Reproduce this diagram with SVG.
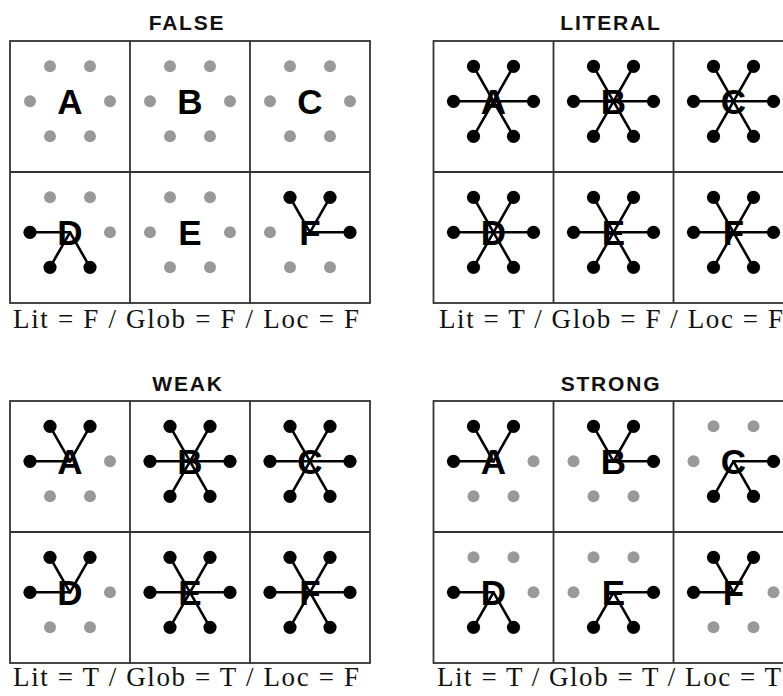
<svg xmlns="http://www.w3.org/2000/svg" xmlns:xlink="http://www.w3.org/1999/xlink" width="783" height="696" viewBox="0 0 783 696">
<style>
.bg{fill:#fff}
.frame{fill:none;stroke:#333;stroke-width:1.8}
.div{stroke:#333;stroke-width:1.8}
.title{font-family:"Liberation Sans",Arial,sans-serif;font-weight:bold;font-size:21px;letter-spacing:1.8px;fill:#111;text-anchor:middle}
.cap{font-family:"Liberation Serif","Times New Roman",serif;font-size:27px;fill:#111}
.lt{font-family:"Liberation Sans",Arial,sans-serif;font-weight:bold;font-size:35px;fill:#000;text-anchor:middle}
.sp{stroke:#000;stroke-width:2.6;stroke-linecap:round}
.g{fill:#999}
.b{fill:#000}
</style>
<defs>
<circle id="gd" class="g" r="6"/>
<circle id="bd" class="b" r="6.6"/>
<line id="sTL" class="sp" x1="0" y1="0" x2="-20" y2="-35"/>
<line id="sTR" class="sp" x1="0" y1="0" x2="20" y2="-35"/>
<line id="sL" class="sp" x1="0" y1="0" x2="-40" y2="0"/>
<line id="sR" class="sp" x1="0" y1="0" x2="40" y2="0"/>
<line id="sBL" class="sp" x1="0" y1="0" x2="-20" y2="35"/>
<line id="sBR" class="sp" x1="0" y1="0" x2="20" y2="35"/>
</defs>
<rect class="bg" x="0" y="0" width="783" height="696"/>

<!-- panel frames -->
<g id="frames">
<rect class="frame" x="10" y="41" width="360" height="262"/>
<line class="div" x1="130" y1="41" x2="130" y2="303"/>
<line class="div" x1="250" y1="41" x2="250" y2="303"/>
<line class="div" x1="10" y1="172" x2="370" y2="172"/>
<rect class="frame" x="433.5" y="41" width="360" height="262"/>
<line class="div" x1="553.5" y1="41" x2="553.5" y2="303"/>
<line class="div" x1="673.5" y1="41" x2="673.5" y2="303"/>
<line class="div" x1="433.5" y1="172" x2="793.5" y2="172"/>
<rect class="frame" x="10" y="401" width="360" height="262"/>
<line class="div" x1="130" y1="401" x2="130" y2="663"/>
<line class="div" x1="250" y1="401" x2="250" y2="663"/>
<line class="div" x1="10" y1="532" x2="370" y2="532"/>
<rect class="frame" x="433.5" y="401" width="360" height="262"/>
<line class="div" x1="553.5" y1="401" x2="553.5" y2="663"/>
<line class="div" x1="673.5" y1="401" x2="673.5" y2="663"/>
<line class="div" x1="433.5" y1="532" x2="793.5" y2="532"/>
</g>

<g id="titles">
<text class="title" x="187" y="30">FALSE</text>
<text class="title" x="611" y="30">LITERAL</text>
<text class="title" x="188" y="391">WEAK</text>
<text class="title" x="611" y="391">STRONG</text>
</g>

<g id="captions">
<text class="cap" x="13" y="328" textLength="346" lengthAdjust="spacing">Lit = F / Glob = F / Loc = F</text>
<text class="cap" x="439" y="328" textLength="344" lengthAdjust="spacing">Lit = T / Glob = F / Loc = F</text>
<text class="cap" x="13" y="686" textLength="346" lengthAdjust="spacing">Lit = T / Glob = T / Loc = F</text>
<text class="cap" x="437" y="686" textLength="344" lengthAdjust="spacing">Lit = T / Glob = T / Loc = T</text>
</g>

<!-- connectors (spokes) -->
<g id="connectors">
<g transform="translate(70,232.3)"><use xlink:href="#sL"/><use xlink:href="#sBL"/><use xlink:href="#sBR"/></g>
<g transform="translate(310,232.3)"><use xlink:href="#sTL"/><use xlink:href="#sTR"/><use xlink:href="#sR"/></g>

<g transform="translate(493.5,101.3)"><use xlink:href="#sTL"/><use xlink:href="#sTR"/><use xlink:href="#sL"/><use xlink:href="#sR"/><use xlink:href="#sBL"/><use xlink:href="#sBR"/></g>
<g transform="translate(613.5,101.3)"><use xlink:href="#sTL"/><use xlink:href="#sTR"/><use xlink:href="#sL"/><use xlink:href="#sR"/><use xlink:href="#sBL"/><use xlink:href="#sBR"/></g>
<g transform="translate(733.5,101.3)"><use xlink:href="#sTL"/><use xlink:href="#sTR"/><use xlink:href="#sL"/><use xlink:href="#sR"/><use xlink:href="#sBL"/><use xlink:href="#sBR"/></g>
<g transform="translate(493.5,232.3)"><use xlink:href="#sTL"/><use xlink:href="#sTR"/><use xlink:href="#sL"/><use xlink:href="#sR"/><use xlink:href="#sBL"/><use xlink:href="#sBR"/></g>
<g transform="translate(613.5,232.3)"><use xlink:href="#sTL"/><use xlink:href="#sTR"/><use xlink:href="#sL"/><use xlink:href="#sR"/><use xlink:href="#sBL"/><use xlink:href="#sBR"/></g>
<g transform="translate(733.5,232.3)"><use xlink:href="#sTL"/><use xlink:href="#sTR"/><use xlink:href="#sL"/><use xlink:href="#sR"/><use xlink:href="#sBL"/><use xlink:href="#sBR"/></g>

<g transform="translate(70,461.3)"><use xlink:href="#sTL"/><use xlink:href="#sTR"/><use xlink:href="#sL"/></g>
<g transform="translate(190,461.3)"><use xlink:href="#sTL"/><use xlink:href="#sTR"/><use xlink:href="#sL"/><use xlink:href="#sR"/><use xlink:href="#sBL"/><use xlink:href="#sBR"/></g>
<g transform="translate(310,461.3)"><use xlink:href="#sTL"/><use xlink:href="#sTR"/><use xlink:href="#sL"/><use xlink:href="#sR"/><use xlink:href="#sBL"/><use xlink:href="#sBR"/></g>
<g transform="translate(70,592.3)"><use xlink:href="#sTL"/><use xlink:href="#sTR"/><use xlink:href="#sL"/></g>
<g transform="translate(190,592.3)"><use xlink:href="#sTL"/><use xlink:href="#sTR"/><use xlink:href="#sL"/><use xlink:href="#sR"/><use xlink:href="#sBL"/><use xlink:href="#sBR"/></g>
<g transform="translate(310,592.3)"><use xlink:href="#sTL"/><use xlink:href="#sTR"/><use xlink:href="#sL"/><use xlink:href="#sR"/><use xlink:href="#sBL"/><use xlink:href="#sBR"/></g>

<g transform="translate(493.5,461.3)"><use xlink:href="#sTL"/><use xlink:href="#sTR"/><use xlink:href="#sL"/></g>
<g transform="translate(613.5,461.3)"><use xlink:href="#sTL"/><use xlink:href="#sTR"/><use xlink:href="#sR"/></g>
<g transform="translate(733.5,461.3)"><use xlink:href="#sR"/><use xlink:href="#sBL"/><use xlink:href="#sBR"/></g>
<g transform="translate(493.5,592.3)"><use xlink:href="#sL"/><use xlink:href="#sBL"/><use xlink:href="#sBR"/></g>
<g transform="translate(613.5,592.3)"><use xlink:href="#sR"/><use xlink:href="#sBL"/><use xlink:href="#sBR"/></g>
<g transform="translate(733.5,592.3)"><use xlink:href="#sTL"/><use xlink:href="#sTR"/><use xlink:href="#sL"/></g>
</g>

<!-- FALSE panel cells -->
<g id="false-A" transform="translate(70,101.3)"><text class="lt" x="0" y="12.5">A</text><use xlink:href="#gd" x="-20" y="-35"/><use xlink:href="#gd" x="20" y="-35"/><use xlink:href="#gd" x="-40" y="0"/><use xlink:href="#gd" x="40" y="0"/><use xlink:href="#gd" x="-20" y="35"/><use xlink:href="#gd" x="20" y="35"/></g>
<g id="false-B" transform="translate(190,101.3)"><text class="lt" x="0" y="12.5">B</text><use xlink:href="#gd" x="-20" y="-35"/><use xlink:href="#gd" x="20" y="-35"/><use xlink:href="#gd" x="-40" y="0"/><use xlink:href="#gd" x="40" y="0"/><use xlink:href="#gd" x="-20" y="35"/><use xlink:href="#gd" x="20" y="35"/></g>
<g id="false-C" transform="translate(310,101.3)"><text class="lt" x="0" y="12.5">C</text><use xlink:href="#gd" x="-20" y="-35"/><use xlink:href="#gd" x="20" y="-35"/><use xlink:href="#gd" x="-40" y="0"/><use xlink:href="#gd" x="40" y="0"/><use xlink:href="#gd" x="-20" y="35"/><use xlink:href="#gd" x="20" y="35"/></g>
<g id="false-D" transform="translate(70,232.3)"><text class="lt" x="0" y="12.5">D</text><use xlink:href="#gd" x="-20" y="-35"/><use xlink:href="#gd" x="20" y="-35"/><use xlink:href="#bd" x="-40" y="0"/><use xlink:href="#gd" x="40" y="0"/><use xlink:href="#bd" x="-20" y="35"/><use xlink:href="#bd" x="20" y="35"/></g>
<g id="false-E" transform="translate(190,232.3)"><text class="lt" x="0" y="12.5">E</text><use xlink:href="#gd" x="-20" y="-35"/><use xlink:href="#gd" x="20" y="-35"/><use xlink:href="#gd" x="-40" y="0"/><use xlink:href="#gd" x="40" y="0"/><use xlink:href="#gd" x="-20" y="35"/><use xlink:href="#gd" x="20" y="35"/></g>
<g id="false-F" transform="translate(310,232.3)"><text class="lt" x="0" y="12.5">F</text><use xlink:href="#bd" x="-20" y="-35"/><use xlink:href="#bd" x="20" y="-35"/><use xlink:href="#gd" x="-40" y="0"/><use xlink:href="#bd" x="40" y="0"/><use xlink:href="#gd" x="-20" y="35"/><use xlink:href="#gd" x="20" y="35"/></g>

<!-- LITERAL panel cells -->
<g id="literal-A" transform="translate(493.5,101.3)"><text class="lt" x="0" y="12.5">A</text><use xlink:href="#bd" x="-20" y="-35"/><use xlink:href="#bd" x="20" y="-35"/><use xlink:href="#bd" x="-40" y="0"/><use xlink:href="#bd" x="40" y="0"/><use xlink:href="#bd" x="-20" y="35"/><use xlink:href="#bd" x="20" y="35"/></g>
<g id="literal-B" transform="translate(613.5,101.3)"><text class="lt" x="0" y="12.5">B</text><use xlink:href="#bd" x="-20" y="-35"/><use xlink:href="#bd" x="20" y="-35"/><use xlink:href="#bd" x="-40" y="0"/><use xlink:href="#bd" x="40" y="0"/><use xlink:href="#bd" x="-20" y="35"/><use xlink:href="#bd" x="20" y="35"/></g>
<g id="literal-C" transform="translate(733.5,101.3)"><text class="lt" x="0" y="12.5">C</text><use xlink:href="#bd" x="-20" y="-35"/><use xlink:href="#bd" x="20" y="-35"/><use xlink:href="#bd" x="-40" y="0"/><use xlink:href="#bd" x="40" y="0"/><use xlink:href="#bd" x="-20" y="35"/><use xlink:href="#bd" x="20" y="35"/></g>
<g id="literal-D" transform="translate(493.5,232.3)"><text class="lt" x="0" y="12.5">D</text><use xlink:href="#bd" x="-20" y="-35"/><use xlink:href="#bd" x="20" y="-35"/><use xlink:href="#bd" x="-40" y="0"/><use xlink:href="#bd" x="40" y="0"/><use xlink:href="#bd" x="-20" y="35"/><use xlink:href="#bd" x="20" y="35"/></g>
<g id="literal-E" transform="translate(613.5,232.3)"><text class="lt" x="0" y="12.5">E</text><use xlink:href="#bd" x="-20" y="-35"/><use xlink:href="#bd" x="20" y="-35"/><use xlink:href="#bd" x="-40" y="0"/><use xlink:href="#bd" x="40" y="0"/><use xlink:href="#bd" x="-20" y="35"/><use xlink:href="#bd" x="20" y="35"/></g>
<g id="literal-F" transform="translate(733.5,232.3)"><text class="lt" x="0" y="12.5">F</text><use xlink:href="#bd" x="-20" y="-35"/><use xlink:href="#bd" x="20" y="-35"/><use xlink:href="#bd" x="-40" y="0"/><use xlink:href="#bd" x="40" y="0"/><use xlink:href="#bd" x="-20" y="35"/><use xlink:href="#bd" x="20" y="35"/></g>

<!-- WEAK panel cells -->
<g id="weak-A" transform="translate(70,461.3)"><text class="lt" x="0" y="12.5">A</text><use xlink:href="#bd" x="-20" y="-35"/><use xlink:href="#bd" x="20" y="-35"/><use xlink:href="#bd" x="-40" y="0"/><use xlink:href="#gd" x="40" y="0"/><use xlink:href="#gd" x="-20" y="35"/><use xlink:href="#gd" x="20" y="35"/></g>
<g id="weak-B" transform="translate(190,461.3)"><text class="lt" x="0" y="12.5">B</text><use xlink:href="#bd" x="-20" y="-35"/><use xlink:href="#bd" x="20" y="-35"/><use xlink:href="#bd" x="-40" y="0"/><use xlink:href="#bd" x="40" y="0"/><use xlink:href="#bd" x="-20" y="35"/><use xlink:href="#bd" x="20" y="35"/></g>
<g id="weak-C" transform="translate(310,461.3)"><text class="lt" x="0" y="12.5">C</text><use xlink:href="#bd" x="-20" y="-35"/><use xlink:href="#bd" x="20" y="-35"/><use xlink:href="#bd" x="-40" y="0"/><use xlink:href="#bd" x="40" y="0"/><use xlink:href="#bd" x="-20" y="35"/><use xlink:href="#bd" x="20" y="35"/></g>
<g id="weak-D" transform="translate(70,592.3)"><text class="lt" x="0" y="12.5">D</text><use xlink:href="#bd" x="-20" y="-35"/><use xlink:href="#bd" x="20" y="-35"/><use xlink:href="#bd" x="-40" y="0"/><use xlink:href="#gd" x="40" y="0"/><use xlink:href="#gd" x="-20" y="35"/><use xlink:href="#gd" x="20" y="35"/></g>
<g id="weak-E" transform="translate(190,592.3)"><text class="lt" x="0" y="12.5">E</text><use xlink:href="#bd" x="-20" y="-35"/><use xlink:href="#bd" x="20" y="-35"/><use xlink:href="#bd" x="-40" y="0"/><use xlink:href="#bd" x="40" y="0"/><use xlink:href="#bd" x="-20" y="35"/><use xlink:href="#bd" x="20" y="35"/></g>
<g id="weak-F" transform="translate(310,592.3)"><text class="lt" x="0" y="12.5">F</text><use xlink:href="#bd" x="-20" y="-35"/><use xlink:href="#bd" x="20" y="-35"/><use xlink:href="#bd" x="-40" y="0"/><use xlink:href="#bd" x="40" y="0"/><use xlink:href="#bd" x="-20" y="35"/><use xlink:href="#bd" x="20" y="35"/></g>

<!-- STRONG panel cells -->
<g id="strong-A" transform="translate(493.5,461.3)"><text class="lt" x="0" y="12.5">A</text><use xlink:href="#bd" x="-20" y="-35"/><use xlink:href="#bd" x="20" y="-35"/><use xlink:href="#bd" x="-40" y="0"/><use xlink:href="#gd" x="40" y="0"/><use xlink:href="#gd" x="-20" y="35"/><use xlink:href="#gd" x="20" y="35"/></g>
<g id="strong-B" transform="translate(613.5,461.3)"><text class="lt" x="0" y="12.5">B</text><use xlink:href="#bd" x="-20" y="-35"/><use xlink:href="#bd" x="20" y="-35"/><use xlink:href="#gd" x="-40" y="0"/><use xlink:href="#bd" x="40" y="0"/><use xlink:href="#gd" x="-20" y="35"/><use xlink:href="#gd" x="20" y="35"/></g>
<g id="strong-C" transform="translate(733.5,461.3)"><text class="lt" x="0" y="12.5">C</text><use xlink:href="#gd" x="-20" y="-35"/><use xlink:href="#gd" x="20" y="-35"/><use xlink:href="#gd" x="-40" y="0"/><use xlink:href="#bd" x="40" y="0"/><use xlink:href="#bd" x="-20" y="35"/><use xlink:href="#bd" x="20" y="35"/></g>
<g id="strong-D" transform="translate(493.5,592.3)"><text class="lt" x="0" y="12.5">D</text><use xlink:href="#gd" x="-20" y="-35"/><use xlink:href="#gd" x="20" y="-35"/><use xlink:href="#bd" x="-40" y="0"/><use xlink:href="#gd" x="40" y="0"/><use xlink:href="#bd" x="-20" y="35"/><use xlink:href="#bd" x="20" y="35"/></g>
<g id="strong-E" transform="translate(613.5,592.3)"><text class="lt" x="0" y="12.5">E</text><use xlink:href="#gd" x="-20" y="-35"/><use xlink:href="#gd" x="20" y="-35"/><use xlink:href="#gd" x="-40" y="0"/><use xlink:href="#bd" x="40" y="0"/><use xlink:href="#bd" x="-20" y="35"/><use xlink:href="#bd" x="20" y="35"/></g>
<g id="strong-F" transform="translate(733.5,592.3)"><text class="lt" x="0" y="12.5">F</text><use xlink:href="#bd" x="-20" y="-35"/><use xlink:href="#bd" x="20" y="-35"/><use xlink:href="#bd" x="-40" y="0"/><use xlink:href="#gd" x="40" y="0"/><use xlink:href="#gd" x="-20" y="35"/><use xlink:href="#gd" x="20" y="35"/></g>
</svg>
